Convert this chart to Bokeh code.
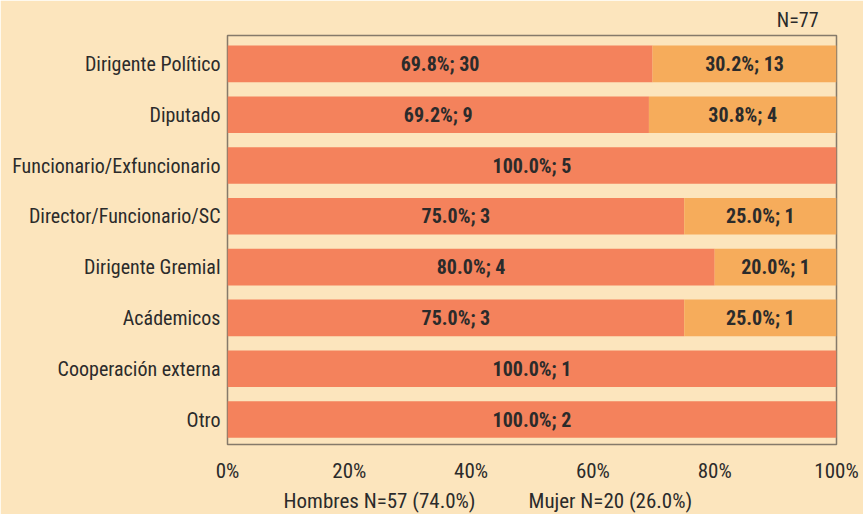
from bokeh.plotting import figure
from bokeh.models import ColumnDataSource, FixedTicker, Range1d, Title
from bokeh.embed import file_html
from bokeh.resources import INLINE

categories = ["Dirigente Político", "Diputado", "Funcionario/Exfuncionario",
              "Director/Funcionario/SC", "Dirigente Gremial", "Acádemicos",
              "Cooperación externa", "Otro"]
hombres_pct = [69.8, 69.2, 100.0, 75.0, 80.0, 75.0, 100.0, 100.0]
mujer_pct = [30.2, 30.8, 0.0, 25.0, 20.0, 25.0, 0.0, 0.0]
hombres_n = [30, 9, 5, 3, 4, 3, 1, 2]
mujer_n = [13, 4, 0, 1, 1, 1, 0, 0]
x_ticks = [0, 20, 40, 60, 80, 100]
x_tick_labels = ["0%", "20%", "40%", "60%", "80%", "100%"]
legend_labels = ["Hombres N=57 (74.0%)", "Mujer N=20 (26.0%)"]
total_label = "N=77"

BG = "#FCE5BD"
C_H = "#F4825C"
C_M = "#F6AC5B"
TXT = "#2b2b2b"
FONT = "'Roboto Condensed', 'DejaVu Sans Condensed', 'Liberation Sans Narrow', Roboto"

n = len(categories)
ypos = [n - i for i in range(n)]  # top category highest

src = ColumnDataSource(dict(
    y=ypos,
    h_end=hombres_pct,
    m_end=[a + b for a, b in zip(hombres_pct, mujer_pct)],
    h_mid=[a / 2 for a in hombres_pct],
    m_mid=[a + b / 2 for a, b in zip(hombres_pct, mujer_pct)],
    h_lab=[f"{v:.1f}%; {k}" for v, k in zip(hombres_pct, hombres_n)],
    m_lab=[f"{v:.1f}%; {k}" if k > 0 else "" for v, k in zip(mujer_pct, mujer_n)],
))

p = figure(width=863, height=514, output_backend="svg", toolbar_location=None,
           y_range=Range1d(0.508, 8.559), x_range=Range1d(0, 100),
           min_border_left=227, min_border_right=27, min_border_top=35,
           min_border_bottom=70)
p.background_fill_color = BG
p.border_fill_color = BG
p.outline_line_color = "#857a6a"
p.outline_line_width = 1.5
p.grid.visible = False

p.hbar(y="y", left=0, right="h_end", height=0.72, source=src,
       fill_color=C_H, line_color=None)
p.hbar(y="y", left="h_end", right="m_end", height=0.72, source=src,
       fill_color=C_M, line_color=None)

for xcol, tcol in (("h_mid", "h_lab"), ("m_mid", "m_lab")):
    p.text(x=xcol, y="y", text=tcol, source=src, text_align="center",
           text_baseline="middle", text_font_size="20px", text_font_style="bold",
           text_color=TXT, text_font={"value": FONT})

xa = p.xaxis[0]
xa.ticker = FixedTicker(ticks=x_ticks)
xa.major_label_overrides = {t: l for t, l in zip(x_ticks, x_tick_labels)}
xa.axis_line_color = None
xa.major_tick_line_color = None
xa.minor_tick_line_color = None
xa.major_label_standoff = 8
xa.major_label_text_font = FONT
xa.major_label_text_font_size = "21px"
xa.major_label_text_color = TXT

ya = p.yaxis[0]
ya.ticker = FixedTicker(ticks=ypos)
ya.major_label_overrides = {y: c for y, c in zip(ypos, categories)}
ya.axis_line_color = None
ya.major_tick_line_color = None
ya.minor_tick_line_color = None
ya.major_label_standoff = 1
ya.major_label_text_font = FONT
ya.major_label_text_font_size = "20px"
ya.major_label_text_color = TXT

p.add_layout(Title(text=total_label, align="right", offset=18, standoff=8,
                   text_font=FONT, text_font_size="20px", text_font_style="normal",
                   text_color=TXT), "above")

legend_text = ("\u00a0" * 11).join(legend_labels)
p.add_layout(Title(text=legend_text, align="left", offset=56, standoff=2,
                   text_font=FONT, text_font_size="21px", text_font_style="normal",
                   text_color=TXT), "below")

open("out.html", "w").write(file_html(p, INLINE))
